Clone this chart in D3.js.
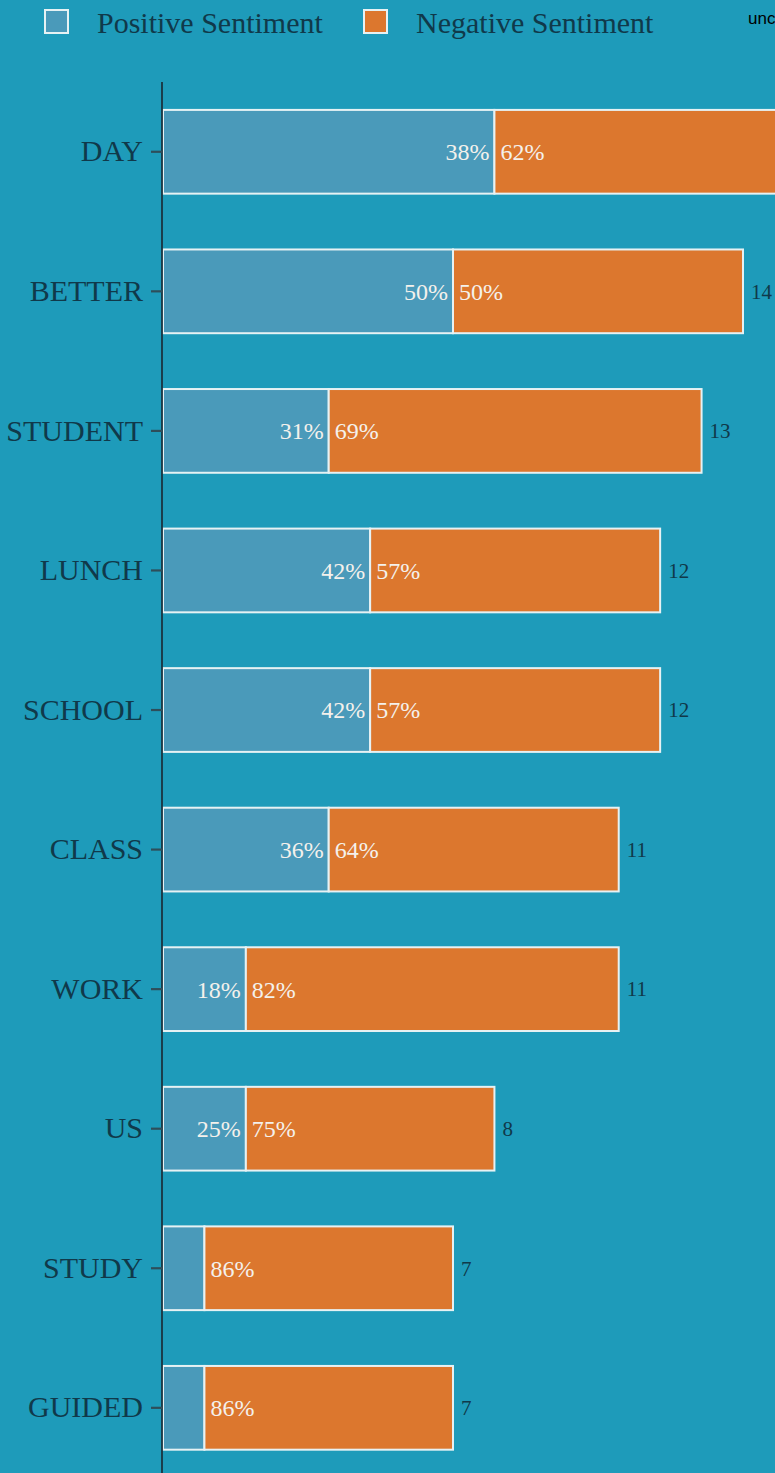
<!DOCTYPE html>
<html>
<head>
<meta charset="utf-8">
<script src="https://cdn.jsdelivr.net/npm/d3@7"></script>
<style>
  html, body { margin: 0; padding: 0; background: #1e9bba; overflow: hidden; }
  svg { display: block; }
</style>
</head>
<body>
<script>
// Word sentiment counts
const words     = ["DAY", "BETTER", "STUDENT", "LUNCH", "SCHOOL", "CLASS", "WORK", "US", "STUDY", "GUIDED"];
const positive  = [8, 7, 4, 5, 5, 4, 2, 2, 1, 1];
const negative  = [13, 7, 9, 7, 7, 7, 9, 6, 6, 6];
const totals    = [21, 14, 13, 12, 12, 11, 11, 8, 7, 7];
const posLabels = ["38%", "50%", "31%", "42%", "42%", "36%", "18%", "25%", "", ""];
const negLabels = ["62%", "50%", "69%", "57%", "57%", "64%", "82%", "75%", "86%", "86%"];
const seriesNames = ["Positive Sentiment", "Negative Sentiment"];

const W = 775, H = 1473;
const colors = { pos: "#4a9aba", neg: "#dc772e", text: "#10394a", bg: "#1e9bba" };
const serif = "'Liberation Serif', 'Times New Roman', serif";

const svg = d3.select("body").append("svg").attr("width", W).attr("height", H);
svg.append("rect").attr("width", W).attr("height", H).attr("fill", colors.bg);

const margin = { left: 162, top: 82 };
const x = d3.scaleLinear().domain([0, 14]).range([margin.left + 1, 743]);
const y = d3.scaleBand().domain(words).range([margin.top, margin.top + 139.56 * 10])
  .paddingInner(0.4).paddingOuter(0.2);

const rows = words.map((w, i) => ({
  word: w, pos: positive[i], neg: negative[i], total: totals[i],
  pl: posLabels[i], nl: negLabels[i]
}));

const g = svg.append("g");

// positive segment
g.selectAll("rect.pos").data(rows).join("rect")
  .attr("class", "pos")
  .attr("x", x(0))
  .attr("y", d => y(d.word))
  .attr("width", d => x(d.pos) - x(0))
  .attr("height", y.bandwidth())
  .attr("fill", colors.pos)
  .attr("stroke", "#e6f2f4").attr("stroke-width", 2);

// negative segment
g.selectAll("rect.neg").data(rows).join("rect")
  .attr("class", "neg")
  .attr("x", d => x(d.pos))
  .attr("y", d => y(d.word))
  .attr("width", d => x(d.pos + d.neg) - x(d.pos))
  .attr("height", y.bandwidth())
  .attr("fill", colors.neg)
  .attr("stroke", "#e6f2f4").attr("stroke-width", 2);

// percentage labels around the split
g.selectAll("text.pl").data(rows).join("text")
  .attr("x", d => x(d.pos) - 5)
  .attr("y", d => y(d.word) + y.bandwidth() / 2)
  .attr("dy", "0.35em")
  .attr("text-anchor", "end")
  .attr("font-family", serif).attr("font-size", 24)
  .attr("fill", "#f4f1ec")
  .text(d => d.pl);

g.selectAll("text.nl").data(rows).join("text")
  .attr("x", d => x(d.pos) + 6)
  .attr("y", d => y(d.word) + y.bandwidth() / 2)
  .attr("dy", "0.35em")
  .attr("font-family", serif).attr("font-size", 24)
  .attr("fill", "#f4f1ec")
  .text(d => d.nl);

// totals at bar end
g.selectAll("text.tot").data(rows).join("text")
  .attr("x", d => x(d.total) + 8)
  .attr("y", d => y(d.word) + y.bandwidth() / 2)
  .attr("dy", "0.35em")
  .attr("font-family", serif).attr("font-size", 21)
  .attr("fill", colors.text)
  .text(d => d.total);

// category axis
const axis = svg.append("g")
  .attr("transform", `translate(${margin.left},0)`)
  .call(d3.axisLeft(y).tickSize(11).tickPadding(8).tickSizeOuter(0));
axis.select(".domain").attr("stroke", "#1a3440").attr("stroke-width", 1.8)
  .attr("d", `M0,${margin.top}V${H + 10}`);
axis.selectAll(".tick line").attr("stroke", "#2e4e5a").attr("stroke-width", 2.2);
axis.selectAll(".tick text")
  .attr("font-family", serif).attr("font-size", 30)
  .attr("fill", colors.text);

// legend
const legend = svg.append("g");
const legendItems = [
  { name: seriesNames[0], color: colors.pos, x: 45 },
  { name: seriesNames[1], color: colors.neg, x: 364 }
];
legendItems.forEach(it => {
  legend.append("rect")
    .attr("x", it.x).attr("y", 10).attr("width", 23).attr("height", 23)
    .attr("fill", it.color).attr("stroke", "#e6f2f4").attr("stroke-width", 2);
  legend.append("text")
    .attr("x", it.x + 52).attr("y", 22).attr("dy", "0.35em")
    .attr("font-family", serif).attr("font-size", 30)
    .attr("fill", colors.text)
    .text(it.name);
});
legend.append("text")
  .attr("x", 748).attr("y", 18).attr("dy", "0.35em")
  .attr("font-family", "'Liberation Sans', Arial, sans-serif").attr("font-size", 17)
  .attr("fill", "#000")
  .text("uncertain");
</script>
</body>
</html>
